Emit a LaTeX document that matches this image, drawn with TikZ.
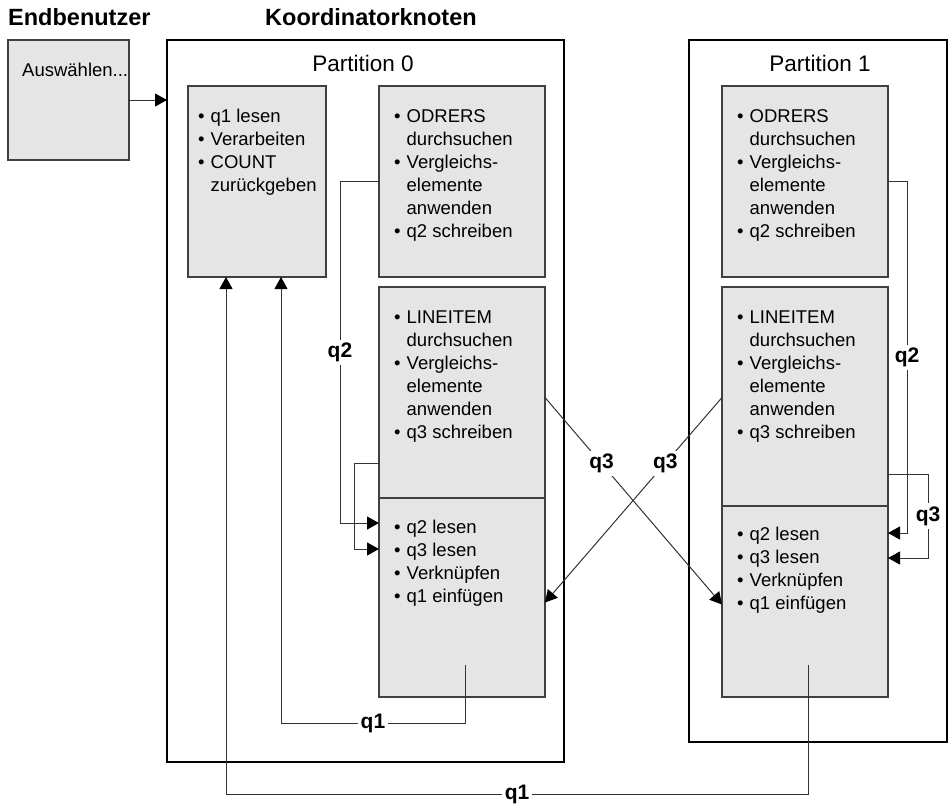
\documentclass[tikz,border=0pt]{standalone}
\usepackage{fontspec}
\setmainfont{Liberation Sans}
\usetikzlibrary{positioning,arrows.meta}
\definecolor{boxclr}{gray}{0.9}
\definecolor{edgeclr}{gray}{0.25}
\definecolor{flowclr}{gray}{0.2}
\newcommand{\boxfont}{\fontsize{18.5}{23}\selectfont}
\newcommand{\steps}[1]{\begin{tabular}{@{}l@{\hspace{6pt}}l@{}}#1\end{tabular}}
\tikzset{ %
  ,>={Triangle[length=12pt,width=13pt,color=black]}
  ,stepbox/.style={draw=edgeclr, line width=1.3pt, fill=boxclr, anchor=north west, inner sep=0, outer sep=0}
  ,partbox/.style={draw, line width=2.3pt, anchor=north west, inner sep=0, outer sep=0}
  ,txt/.style={anchor=north west, inner sep=0, font=\boxfont}
  ,hdr/.style={anchor=base west, inner sep=0, font=\fontsize{23.5}{28}\selectfont\bfseries}
  ,ptitle/.style={anchor=base, inner sep=0, font=\fontsize{22.5}{27}\selectfont}
  ,flow/.style={draw=flowclr, line width=1pt, ->}
  ,lbl/.style={fill=white, inner sep=3pt, text=black, font=\fontsize{21}{25}\selectfont\bfseries}
}

\begin{document}
\begin{tikzpicture}[x=1pt, y=-1pt]
  \useasboundingbox (0,0) rectangle (951,807);
  \node[hdr] (endlbl) at (8,25) {Endbenutzer};
  \node[hdr] (koordlbl) at (265,25) {Koordinatorknoten};

  \node[stepbox, minimum width=121pt, minimum height=120pt] (auswahl) at (8,40) {};
  \node[txt] (auswahltxt) at ([shift={(14pt,-20pt)}]auswahl.north west) {\strut Auswählen...};

  \node[partbox, minimum width=397pt, minimum height=722pt] (part0) at (167,40) {};
  \node[partbox, minimum width=258pt, minimum height=702pt] (part1) at (689,40) {};
  \node[ptitle] (p0lbl) at (363,71) {Partition 0};
  \node[ptitle] (p1lbl) at (820,71) {Partition 1};

  \node[stepbox, minimum width=138pt, minimum height=191pt] (koord) at (188,86) {};
  \node[stepbox, minimum width=166pt, minimum height=191pt] (ord0) at (379,86) {};
  \node[stepbox, minimum width=166pt, minimum height=211pt] (li0) at (379,287) {};
  \node[stepbox, minimum width=166pt, minimum height=199pt] (join0) at (379,498) {};
  \node[stepbox, minimum width=166pt, minimum height=191pt] (ord1) at (722,86) {};
  \node[stepbox, minimum width=166pt, minimum height=219pt] (li1) at (722,287) {};
  \node[stepbox, minimum width=166pt, minimum height=191pt] (join1) at (722,506) {};

  \node[txt] (koordtxt) at ([shift={(10pt,-20pt)}]koord.north west)
    {\steps{•&q1 lesen\\•&Verarbeiten\\•&COUNT\\&zurückgeben}};
  \node[txt] (ord0txt) at ([shift={(15pt,-20pt)}]ord0.north west)
    {\steps{•&ODRERS\\&durchsuchen\\•&Vergleichs-\\&elemente\\&anwenden\\•&q2 schreiben}};
  \node[txt] (li0txt) at ([shift={(15pt,-20pt)}]li0.north west)
    {\steps{•&LINEITEM\\&durchsuchen\\•&Vergleichs-\\&elemente\\&anwenden\\•&q3 schreiben}};
  \node[txt] (join0txt) at ([shift={(15pt,-19pt)}]join0.north west)
    {\steps{•&q2 lesen\\•&q3 lesen\\•&Verknüpfen\\•&q1 einfügen}};
  \node[txt] (ord1txt) at ([shift={(15pt,-20pt)}]ord1.north west)
    {\steps{•&ODRERS\\&durchsuchen\\•&Vergleichs-\\&elemente\\&anwenden\\•&q2 schreiben}};
  \node[txt] (li1txt) at ([shift={(15pt,-20pt)}]li1.north west)
    {\steps{•&LINEITEM\\&durchsuchen\\•&Vergleichs-\\&elemente\\&anwenden\\•&q3 schreiben}};
  \node[txt] (join1txt) at ([shift={(15pt,-18pt)}]join1.north west)
    {\steps{•&q2 lesen\\•&q3 lesen\\•&Verknüpfen\\•&q1 einfügen}};

  \coordinate (q1in) at ([shift={(3pt,-67pt)}]join0.center);
  \coordinate (q1out) at ([shift={(3pt,-63pt)}]join1.center);

  \draw[flow] (auswahl.east) -- (auswahl.east -| part0.west);
  \draw[flow] (ord0.west) -- ++(-39,0) |- node[lbl, pos=0.25] {q2} ([yshift=-25pt]join0.north west);
  \draw[flow] ([yshift=35pt]li0.south west) -- ++(-25,0) |- ([yshift=-51pt]join0.north west);
  \draw[flow] (q1in) -- ++(0,59) -| node[lbl, pos=0.25] {q1} ([xshift=24pt]koord.south);
  \draw[flow] (q1out) -- ++(0,130) -| node[lbl, pos=0.25] {q1} ([xshift=-31pt]koord.south);
  \draw[flow] ([yshift=-5pt]li0.east) -- node[lbl, pos=0.32] {q3} ([yshift=-3pt]join1.west);
  \draw[flow] ([yshift=-1pt]li1.west) -- node[lbl, pos=0.32] {q3} ([yshift=-5pt]join0.east);
  \draw[flow] (ord1.east) -- ++(19,0) |- node[lbl, pos=0.25] {q2} ([yshift=-27pt]join1.north east);
  \draw[flow] ([yshift=32pt]li1.south east) -- ++(40,0) |- node[lbl, pos=0.25] {q3} ([yshift=-52pt]join1.north east);
\end{tikzpicture}
\end{document}
